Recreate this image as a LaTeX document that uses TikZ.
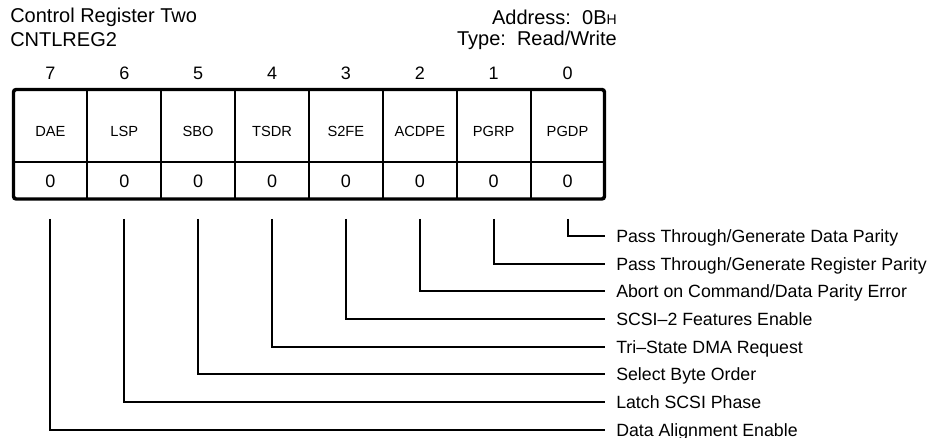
\documentclass[tikz,border=0pt]{standalone}
\usepackage{fontspec}
\setmainfont{Liberation Sans}

\begin{document}
\begin{tikzpicture}[x=.75pt, y=-.75pt,
  head/.style={font=\fontsize{15}{18}\selectfont, inner sep=0pt},
  bitno/.style={font=\fontsize{13.5}{16}\selectfont, inner sep=0pt},
  field/.style={font=\fontsize{11}{13}\selectfont, inner sep=0pt},
  desc/.style={font=\fontsize{13.3}{16}\selectfont, anchor=west, inner xsep=8.25pt, inner ysep=0pt, text height=9.5pt, text depth=0pt},
  wire/.style={line width=1.5pt}]
\useasboundingbox (0,0) rectangle (933,438);

% heading
\node[head, anchor=west] (title) at (10,17) {Control Register Two};
\node[head, anchor=west] (reg) at (10,40) {CNTLREG2};
\node[head, anchor=east] (addr) at (617,17) {Address:\ \ 0B{\fontsize{10.5}{12}\selectfont H}};
\node[head, anchor=east] (type) at (617,40) {Type:\ \ Read/Write};

% register box
\draw[line width=1.8pt] (13.5,162) -- (604.5,162);
\foreach \k in {1,...,7}
\draw[wire] ({13.5+73.875*\k},89.5) --++(0,109.5);
\draw[line width=2.6pt, rounded corners=2pt] (13.5,89.5) rectangle (604.5,199);

\foreach \name [count=\k from 0, evaluate=\k as \b using int(7-\k)] in {DAE, LSP, SBO, TSDR, S2FE, ACDPE, PGRP, PGDP} {
\node[bitno] (n\b) at ({50.4+73.875*\k},73) {\b};
\node[field] (f\b) at ({50.4+73.875*\k},131) {\name};
\node[bitno] (v\b) at ({50.4+73.875*\k},181) {0};
\coordinate (t\b) at ({50.4+73.875*\k},219);
}

% bit descriptions
\foreach \b/\txt in {0/{Pass Through/Generate Data Parity}, 1/{Pass Through/Generate Register Parity},
  2/{Abort on Command/Data Parity Error}, 3/{SCSI\textendash 2 Features Enable}, 4/{Tri\textendash State DMA Request},
  5/{Select Byte Order}, 6/{Latch SCSI Phase}, 7/{Data Alignment Enable}} {
\node[desc] (d\b) at (605,{236+27.7*\b}) {\txt};
\draw[wire] (t\b) |- (d\b);
}

\end{tikzpicture}
\end{document}
